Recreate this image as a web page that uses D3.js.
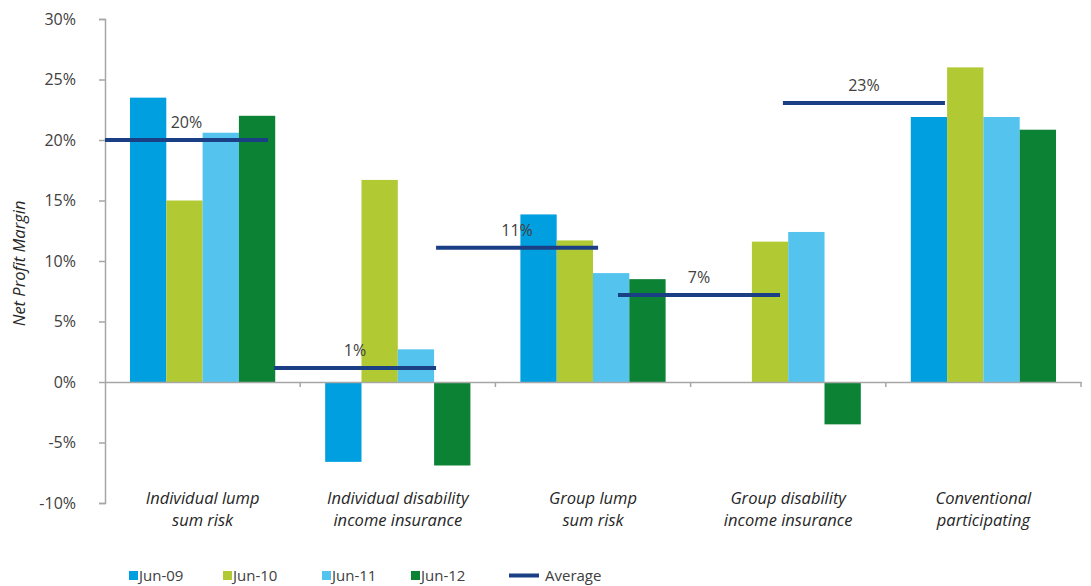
<!DOCTYPE html>
<html>
<head>
<meta charset="utf-8">
<script src="https://cdnjs.cloudflare.com/ajax/libs/d3/7.8.5/d3.min.js"></script>
<style>
    body { margin: 0; background: #fff; }
    svg { font-family: "Open Sans", "Noto Sans", sans-serif; }
</style>
</head>
<body>
<div id="chart"></div>
<script>
// categories (two-line labels)
var categories = ["ilsr", "idii", "glsr", "gdii", "cp"];
var categoryLines = [
    ["Individual lump", "sum risk"],
    ["Individual disability", "income insurance"],
    ["Group lump", "sum risk"],
    ["Group disability", "income insurance"],
    ["Conventional", "participating"]
];
var seriesNames = ["Jun-09", "Jun-10", "Jun-11", "Jun-12"];
var seriesColors = ["#009fdf", "#b1c932", "#54c4ef", "#0c8334"];

// net profit margin (%) per series, one value per category (null = no bar)
var jun09 = [23.5, -6.6, 13.85, null, 21.9];
var jun10 = [15.0, 16.7, 11.7, 11.6, 26.0];
var jun11 = [20.6, 2.7, 9.0, 12.4, 21.9];
var jun12 = [22.0, -6.9, 8.5, -3.5, 20.85];

// averages, drawn as short segments measured in category units
var avgValues = [20.0, 1.15, 11.1, 7.2, 23.05];
var avgLabels = ["20%", "1%", "11%", "7%", "23%"];
var avgStart = [0.0, 0.866, 1.696, 2.628, 3.473];
var avgEnd = [0.835, 1.696, 2.526, 3.458, 4.303];

var yTicks = [-10, -5, 0, 5, 10, 15, 20, 25, 30];

var seriesValues = [jun09, jun10, jun11, jun12];

var svgWidth = 1091, svgHeight = 586;
var plotLeft = 105, plotRight = 1081, plotTop = 19, plotBottom = 503;

var svg = d3.select("#chart").append("svg")
    .attr("width", svgWidth)
    .attr("height", svgHeight);

var x0 = d3.scaleBand().domain(categories).range([plotLeft, plotRight]).padding(0);
var bw = x0.bandwidth();
var x1 = d3.scaleBand().domain(seriesNames).range([bw * 0.128, bw * 0.872]).padding(0);
var xc = d3.scaleLinear().domain([0, categories.length]).range([plotLeft, plotRight]);
var y = d3.scaleLinear().domain([-10, 30]).range([plotBottom, plotTop]);

// bars
seriesNames.forEach(function (s, si) {
    var vals = seriesValues[si];
    svg.append("g")
        .selectAll("rect")
        .data(categories.map(function (c, i) { return {c: c, v: vals[i]}; })
            .filter(function (d) { return d.v !== null; }))
        .enter()
        .append("rect")
        .attr("x", function (d) { return x0(d.c) + x1(s); })
        .attr("width", x1.bandwidth())
        .attr("y", function (d) { return y(Math.max(0, d.v)); })
        .attr("height", function (d) { return Math.abs(y(d.v) - y(0)); })
        .attr("fill", seriesColors[si]);
});

// y axis
var yAxis = svg.append("g")
    .attr("transform", "translate(" + plotLeft + ",0)")
    .call(d3.axisLeft(y).tickValues(yTicks).tickSize(6).tickPadding(23)
        .tickFormat(function (d) { return d + "%"; }));
yAxis.select(".domain").attr("stroke", "#a6a6a6").attr("stroke-width", 1.5);
yAxis.selectAll(".tick line").attr("stroke", "#a6a6a6").attr("stroke-width", 1.5);
yAxis.selectAll(".tick text")
    .attr("font-size", 16)
    .attr("fill", "#404040")
    .attr("font-family", "'Open Sans', sans-serif");

// x axis at zero
var xAxis = svg.append("g")
    .attr("transform", "translate(0," + y(0) + ")")
    .call(d3.axisBottom(x0).tickSize(0).tickFormat(""));
xAxis.select(".domain").attr("stroke", "#a6a6a6").attr("stroke-width", 1.5);
xAxis.selectAll(".tick").remove();
xAxis.selectAll("line.sep")
    .data(d3.range(1, categories.length + 1))
    .enter()
    .append("line")
    .attr("class", "sep")
    .attr("x1", function (d) { return xc(d); })
    .attr("x2", function (d) { return xc(d); })
    .attr("y1", 0)
    .attr("y2", 5)
    .attr("stroke", "#a6a6a6")
    .attr("stroke-width", 1.5);

// category labels
var catText = svg.append("g").selectAll("text")
    .data(categories)
    .enter()
    .append("text")
    .attr("x", function (d) { return x0(d) + bw / 2; })
    .attr("y", 504)
    .attr("text-anchor", "middle")
    .attr("font-size", 16.5)
    .attr("font-style", "italic")
    .attr("fill", "#262626");
catText.each(function (d, i) {
    var t = d3.select(this);
    categoryLines[i].forEach(function (line, li) {
        t.append("tspan")
            .attr("x", x0(d) + bw / 2)
            .attr("dy", li === 0 ? 0 : 22)
            .text(line);
    });
});

// average segments
svg.append("g").selectAll("line")
    .data(avgValues)
    .enter()
    .append("line")
    .attr("x1", function (d, i) { return xc(avgStart[i]); })
    .attr("x2", function (d, i) { return xc(avgEnd[i]); })
    .attr("y1", function (d) { return y(d); })
    .attr("y2", function (d) { return y(d); })
    .attr("stroke", "#1b3f84")
    .attr("stroke-width", 4);

svg.append("g").selectAll("text")
    .data(avgValues)
    .enter()
    .append("text")
    .attr("x", function (d, i) { return (xc(avgStart[i]) + xc(avgEnd[i])) / 2; })
    .attr("y", function (d) { return y(d) - 12; })
    .attr("text-anchor", "middle")
    .attr("font-size", 16)
    .attr("fill", "#404040")
    .text(function (d, i) { return avgLabels[i]; });

// y axis title
svg.append("text")
    .attr("transform", "translate(25," + (y(9.8)) + ") rotate(-90)")
    .attr("text-anchor", "middle")
    .attr("font-size", 16.5)
    .attr("font-style", "italic")
    .attr("fill", "#262626")
    .text("Net Profit Margin");

// legend
var legendX = [129, 223, 322, 411];
var legend = svg.append("g");
seriesNames.forEach(function (s, i) {
    legend.append("rect")
        .attr("x", legendX[i])
        .attr("y", 571)
        .attr("width", 9)
        .attr("height", 9)
        .attr("fill", seriesColors[i]);
    legend.append("text")
        .attr("x", legendX[i] + 10)
        .attr("y", 581)
        .attr("font-size", 15)
        .attr("fill", "#404040")
        .text(s);
});
legend.append("line")
    .attr("x1", 509).attr("x2", 539)
    .attr("y1", 575.5).attr("y2", 575.5)
    .attr("stroke", "#1b3f84")
    .attr("stroke-width", 4);
legend.append("text")
    .attr("x", 545)
    .attr("y", 581)
    .attr("font-size", 15)
    .attr("fill", "#404040")
    .text("Average");
</script>
</body>
</html>
